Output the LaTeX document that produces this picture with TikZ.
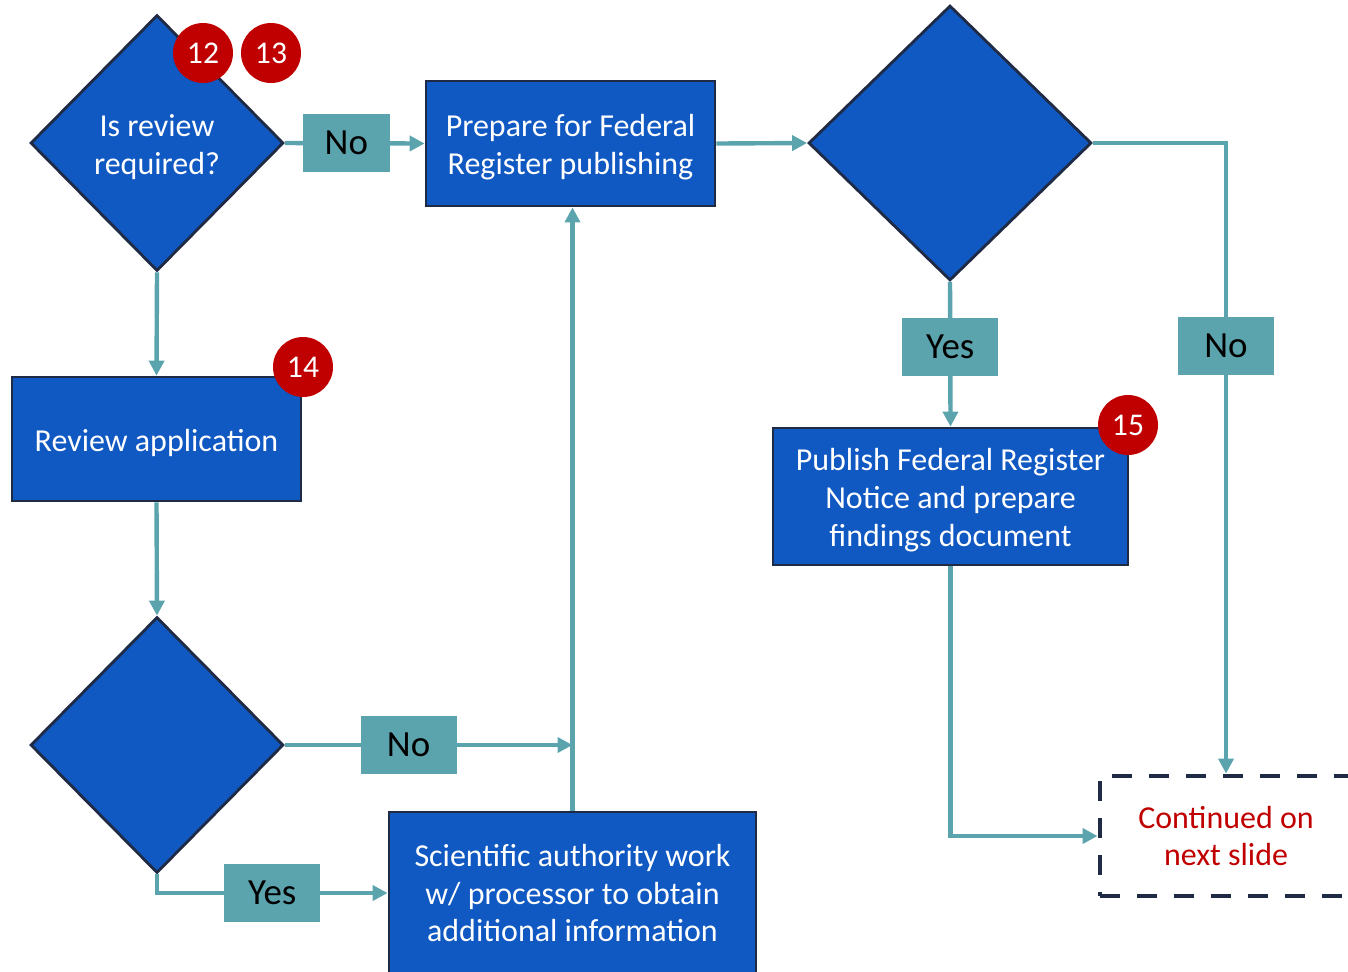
\documentclass[tikz,border=0pt]{standalone}
\usepackage{fontspec}
\setmainfont{Carlito}
\usepackage{tikz}
\usetikzlibrary{arrows.meta,shapes.geometric,positioning}
\definecolor{sablue}{RGB}{16,88,194}
\definecolor{sanavy}{RGB}{31,42,68}
\definecolor{sateal}{RGB}{91,163,173}
\definecolor{sared}{RGB}{192,0,0}
\newcommand{\topgap}{\rule{0pt}{8.6pt}}
\tikzstyle{arrow} = [line width=1.25pt,-{Triangle[length=1.5mm,width=1.5mm]},color=sateal]
\tikzstyle{process} = [rectangle, draw=sanavy, line width=0.8pt, fill=sablue, text=white, align=center, font=\fontsize{9.1}{10.8}\selectfont]
\tikzstyle{decision} = [diamond, draw=sanavy, line width=0.8pt, fill=sablue, text=white, align=center, inner sep=0pt, font=\fontsize{9.1}{10.8}\selectfont]
\tikzstyle{lbl} = [rectangle, fill=sateal, text=black, minimum height=5.8mm, font=\fontsize{10.5}{12}\selectfont]
\tikzstyle{badge} = [circle, fill=sared, text=white, minimum size=6mm, inner sep=0pt, font=\fontsize{9}{10}\selectfont]

\begin{document}
\begin{tikzpicture}[x=0.1mm, y=-0.1mm]
\useasboundingbox (0,0) rectangle (1348,971);

% Decisions
\node[decision, minimum width=25.3mm, minimum height=25.6mm] (q1) at (157,143) {\topgap Is review\\required?};
\node[decision, minimum width=28.3mm, minimum height=27.5mm] (q2) at (950,143) {};
\node[decision, minimum width=25.3mm, minimum height=25.6mm] (q3) at (157,745) {};

% Steps
\node[process, minimum width=28.9mm, minimum height=12.5mm] (prep) at (570.5,143.5) {\topgap Prepare for Federal\\Register publishing};
\node[process, minimum width=28.9mm, minimum height=12.4mm] (review) at (156.5,439) {\topgap Review application};
\node[process, minimum width=35.5mm, minimum height=13.7mm] (pub) at (950.5,496.5) {\topgap Publish Federal Register\\Notice and prepare\\findings document};
\node[process, minimum width=36.7mm, minimum height=16.2mm] (sci) at (572.5,893) {Scientific authority work\\w/ processor to obtain\\additional information};
\node[rectangle, draw=sanavy, line width=1.4pt, dash pattern=on 2mm off 1.7mm, text=sared, align=center, minimum width=25.2mm, minimum height=12mm, font=\fontsize{9.1}{10.8}\selectfont] (cont) at (1226,836) {Continued on\\next slide};
\coordinate (join) at (sci.north |- q3.east);

% Connectors
\draw[arrow] (q1.east) -- node[lbl, pos=0.44, minimum width=8.7mm] (no1) {No} (prep.west);
\draw[arrow] (q1.south) -- (review.north);
\draw[arrow] (review.south) -- (q3.north);
\draw[arrow] (q3.east) -- node[lbl, pos=0.43, minimum width=9.6mm] (no3) {No} (join);
\draw[arrow] (q3.south) |- node[lbl, pos=0.75, minimum width=9.6mm] (yes3) {Yes} (sci.west);
\draw[arrow] (sci.north) -- (sci.north |- prep.south);
\draw[arrow] (prep.east) -- (q2.west);
\draw[arrow] (q2.south) -- node[lbl, pos=0.45, minimum width=9.6mm] (yes2) {Yes} (pub.north);
\draw[arrow] (q2.east) -| node[lbl, pos=0.661, minimum width=9.6mm] (no2) {No} (cont.north);
\draw[arrow] (pub.south) |- (cont.west);

% Step numbers
\node[badge] (b12) at (203,53) {12};
\node[badge] (b13) at (271,53) {13};
\node[badge] (b14) at (303,367) {14};
\node[badge] (b15) at (1128,425) {15};
\end{tikzpicture}
\end{document}
